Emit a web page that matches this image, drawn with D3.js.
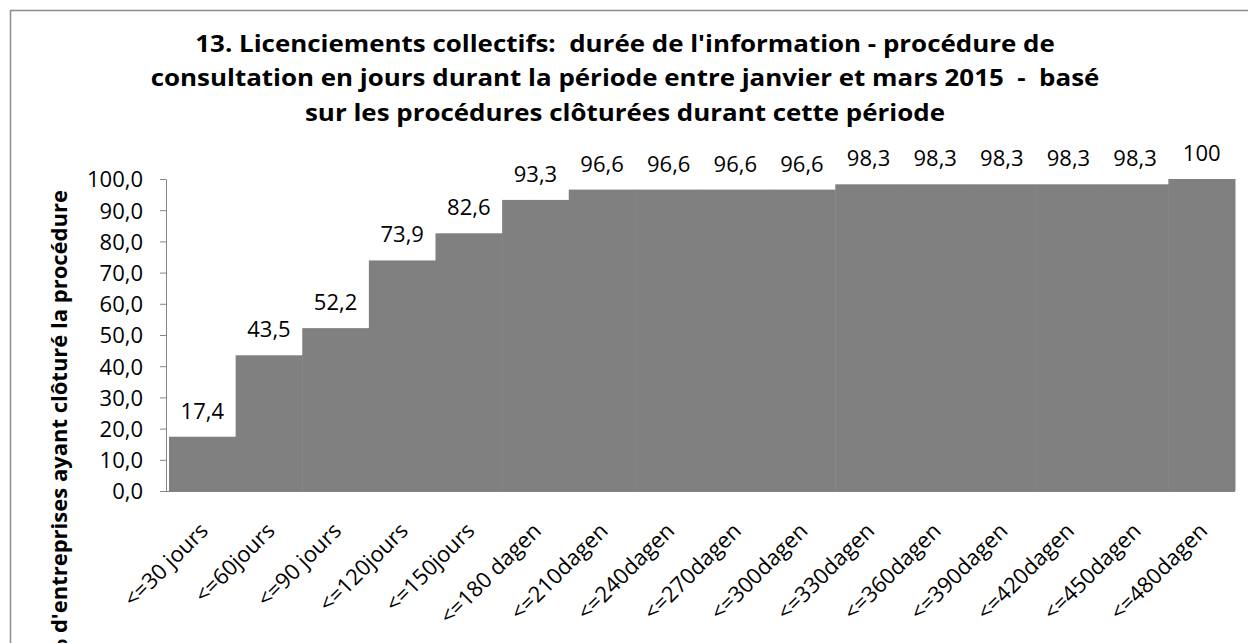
<!DOCTYPE html>
<html>
<head>
<meta charset="utf-8">
<script src="https://cdn.jsdelivr.net/npm/d3@7"></script>
<style>
  body { margin: 0; background: #fff; }
  svg { display: block; font-family: "Open Sans", sans-serif; }
  text { white-space: pre; }
</style>
</head>
<body>
<svg id="chart" width="1248" height="643"></svg>
<script>
// categories and cumulative % of closed procedures
const categories = ['<=30 jours', '<=60jours', '<=90 jours', '<=120jours', '<=150jours',
  '<=180 dagen', '<=210dagen', '<=240dagen', '<=270dagen', '<=300dagen', '<=330dagen',
  '<=360dagen', '<=390dagen', '<=420dagen', '<=450dagen', '<=480dagen'];
const values = [17.4, 43.5, 52.2, 73.9, 82.6, 93.3, 96.6, 96.6, 96.6, 96.6,
  98.3, 98.3, 98.3, 98.3, 98.3, 100];
const labels = ['17,4', '43,5', '52,2', '73,9', '82,6', '93,3', '96,6', '96,6', '96,6', '96,6',
  '98,3', '98,3', '98,3', '98,3', '98,3', '100'];
const yTicks = [0, 10, 20, 30, 40, 50, 60, 70, 80, 90, 100];
const titleLines = [
  "13. Licenciements collectifs:  durée de l'information - procédure de",
  "consultation en jours durant la période entre janvier et mars 2015  -  basé",
  "sur les procédures clôturées durant cette période"
];
const yTitle = "% d'entreprises ayant clôturé la procédure";

const svg = d3.select('#chart');
const plotLeft = 169, plotRight = 1235, plotTop = 179, plotBottom = 491;

// outer chart border
svg.append('rect')
  .attr('x', 10.5).attr('y', 10.5)
  .attr('width', 1300).attr('height', 800)
  .attr('fill', 'none')
  .attr('stroke', '#8c8c8c')
  .attr('stroke-width', 1.5);

const x = d3.scaleBand().domain(categories).range([plotLeft, plotRight]).padding(0);
const y = d3.scaleLinear().domain([0, 100]).range([plotBottom, plotTop]);

// title (stretched a bit to get the wide Calibri look)
svg.append('text')
  .attr('transform', 'translate(625,0) scale(1.127,1)')
  .attr('text-anchor', 'middle')
  .style('font-size', '23px')
  .style('font-weight', 'bold')
  .selectAll('tspan')
  .data(titleLines)
  .join('tspan')
  .attr('x', 0)
  .attr('y', (d, i) => 52 + i * 34.5)
  .text(d => d);

// bars
svg.append('g')
  .selectAll('rect')
  .data(values)
  .join('rect')
  .attr('x', (d, i) => x(categories[i]))
  .attr('y', d => y(d))
  .attr('width', x.bandwidth() + 0.5)
  .attr('height', d => y(0) - y(d))
  .attr('fill', '#808080');

// data labels
svg.append('g')
  .selectAll('text')
  .data(values)
  .join('text')
  .attr('x', (d, i) => x(categories[i]) + x.bandwidth() / 2)
  .attr('y', d => y(d) - 18)
  .attr('text-anchor', 'middle')
  .style('font-size', '22px')
  .text((d, i) => labels[i]);

// y axis
const yAxis = svg.append('g')
  .attr('transform', `translate(${plotLeft - 3},0)`)
  .call(d3.axisLeft(y).tickValues(yTicks).tickSize(6).tickSizeOuter(0)
    .tickFormat(d => d3.format('.1f')(d).replace('.', ',')));
yAxis.select('.domain').attr('stroke', '#868686');
yAxis.selectAll('.tick line').attr('stroke', '#868686');
yAxis.selectAll('.tick text')
  .attr('x', -23)
  .attr('dy', '0.36em')
  .attr('fill', '#000')
  .style('font-family', '"Open Sans", sans-serif')
  .style('font-size', '22px');

// x axis
const xAxis = svg.append('g')
  .attr('transform', `translate(0,${plotBottom})`)
  .call(d3.axisBottom(x).tickSize(0).tickSizeOuter(0));
xAxis.select('.domain').attr('stroke', '#868686').attr('d', `M${plotLeft - 3},0.5H${plotRight}`);
xAxis.selectAll('.tick text')
  .attr('fill', '#000')
  .style('font-family', '"Open Sans", sans-serif')
  .style('font-size', '22px')
  .attr('text-anchor', 'end')
  .attr('dy', 0)
  .attr('transform', 'translate(5,39) rotate(-45)');

// y axis title
svg.append('text')
  .attr('transform', 'translate(67,190) rotate(-90)')
  .attr('text-anchor', 'end')
  .style('font-size', '22px')
  .style('font-weight', 'bold')
  .text(yTitle);
</script>
</body>
</html>
